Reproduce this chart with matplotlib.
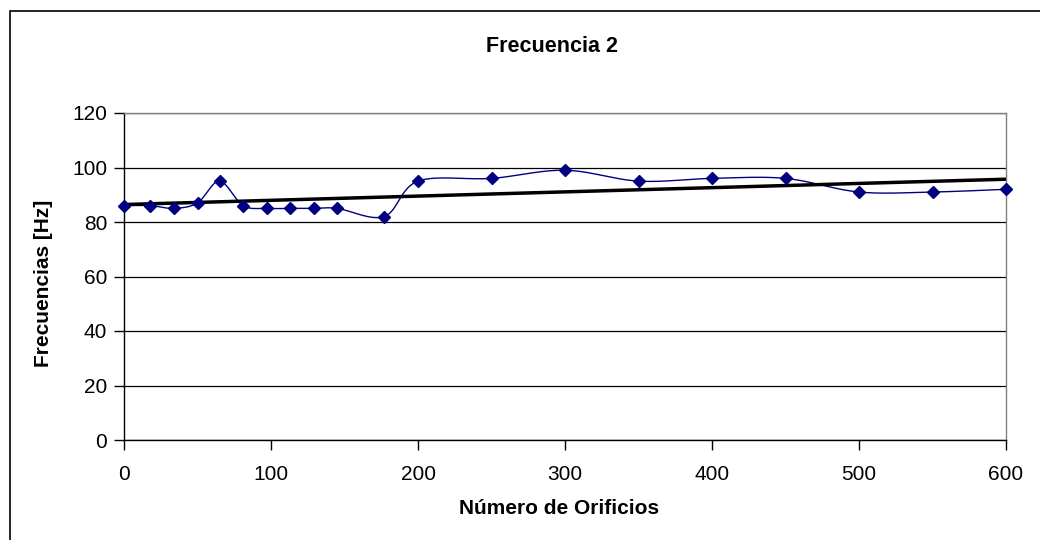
import numpy as np
import matplotlib.pyplot as plt
from matplotlib.patches import Rectangle

# Data
orificios = [0, 18, 34, 50, 65, 81, 97, 113, 129, 145, 177, 200,
             250, 300, 350, 400, 450, 500, 550, 600]
frecuencias = [86, 86, 85, 87, 95, 86, 85, 85, 85, 85, 82, 95,
               96, 99, 95, 96, 96, 91, 91, 92]

x_ticks = [0, 100, 200, 300, 400, 500, 600]
y_ticks = [0, 20, 40, 60, 80, 100, 120]


def smooth(xs, ys, n=20):
    # Excel-like smoothed line: cubic Bezier through points (Catmull-Rom)
    pts = np.column_stack([xs, ys]).astype(float)
    out = [pts[0]]
    for i in range(len(pts) - 1):
        p0 = pts[i - 1] if i > 0 else pts[i]
        p1 = pts[i]
        p2 = pts[i + 1]
        p3 = pts[i + 2] if i + 2 < len(pts) else pts[i + 1]
        c1 = p1 + (p2 - p0) / 6
        c2 = p2 - (p3 - p1) / 6
        t = np.linspace(0, 1, n)[1:, None]
        seg = ((1 - t) ** 3) * p1 + 3 * ((1 - t) ** 2) * t * c1 \
            + 3 * (1 - t) * t ** 2 * c2 + t ** 3 * p2
        out.extend(seg)
    out = np.array(out)
    return out[:, 0], out[:, 1]


plt.rcParams['font.family'] = ['Liberation Sans', 'DejaVu Sans']

W, H = 1040, 540
fig = plt.figure(figsize=(W / 100, H / 100), dpi=100)
ax = fig.add_axes([124 / W, 1 - 440 / H, 882 / W, 327 / H])

# chart border
fig.patches.append(Rectangle((9.5 / W, -0.01), 1.05, 1 - 10.5 / H + 0.01,
                             transform=fig.transFigure, fill=False,
                             edgecolor='black', linewidth=1.2))

sx, sy = smooth(orificios, frecuencias)
ax.plot(sx, sy, color='#000080', linewidth=1, zorder=3)
ax.plot(orificios, frecuencias, linestyle='none', marker='D',
        markersize=6, color='#000080', zorder=4, clip_on=False)

# linear trend line
m, b = np.polyfit(orificios, frecuencias, 1)
tx = np.array([0, 600])
ax.plot(tx, m * tx + b, color='black', linewidth=2.5, zorder=3)

ax.set_xlim(0, 600)
ax.set_ylim(0, 120)
ax.set_xticks(x_ticks)
ax.set_yticks(y_ticks)
ax.yaxis.grid(True, color='black', linewidth=0.9)
ax.set_axisbelow(True)

ax.spines['left'].set_color('black')
ax.spines['bottom'].set_color('black')
ax.spines['top'].set_color('#808080')
ax.spines['right'].set_color('#808080')
for s in ax.spines.values():
    s.set_linewidth(1)

ax.tick_params(axis='both', direction='out', length=7, width=1,
               labelsize=15, color='black')
ax.tick_params(axis='x', pad=11)
ax.tick_params(axis='y', pad=5)

fig.text(552 / W, 1 - 47 / H, "Frecuencia 2", fontsize=15.5,
         fontweight='bold', ha='center', va='center')
fig.text(559 / W, 1 - 509 / H, "Número de Orificios", fontsize=15,
         fontweight='bold', ha='center', va='center')
fig.text(44 / W, 1 - 283 / H, "Frecuencias [Hz]", fontsize=15,
         fontweight='bold', ha='center', va='center', rotation=90)

fig.savefig('out.png', dpi=100)
